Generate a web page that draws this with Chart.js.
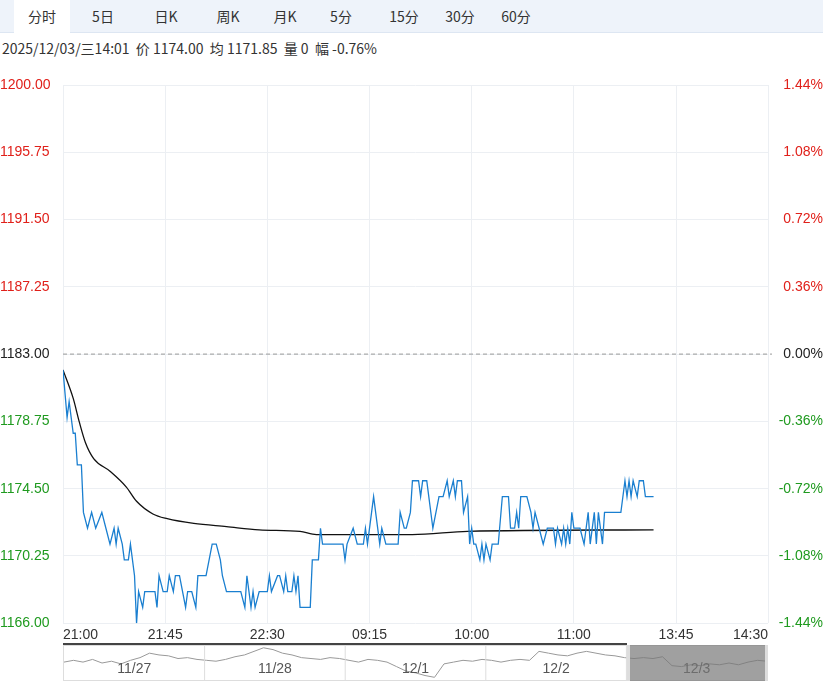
<!DOCTYPE html>
<html>
<head>
<meta charset="utf-8">
<script src="https://cdn.jsdelivr.net/npm/chart.js@4"></script>
<style>
body { margin: 0; width: 823px; height: 684px; position: relative; font-family: "Noto Sans CJK SC", "Noto Sans", sans-serif; background: #fff; overflow: hidden; }
#tabs { position: absolute; left: 0; top: 0; width: 823px; height: 32px; background: #eef3fa; border-bottom: 1px solid #dde6f2; }
#tabs span { position: absolute; top: 0; height: 32px; line-height: 32px; font-size: 14px; color: #333; text-align: center; width: 56px; }
#tabs span.on { background: #fff; height: 33px; }
#info { position: absolute; left: 2px; top: 38px; font-size: 14px; color: #333; white-space: pre; }
#main { position: absolute; left: 0; top: 60px; width: 823px; height: 588px; }
#nav { position: absolute; left: 63px; top: 645px; width: 705px; height: 36px; border: 1px solid #ddd; box-sizing: border-box; }
#navsel { position: absolute; left: 627px; top: 645px; width: 141px; height: 36px; background: rgba(120,120,120,0.7); border-left: 3px solid #ddd; border-right: 3px solid #ddd; box-sizing: border-box; }
#navbar { position: absolute; left: 63px; top: 643px; width: 564px; height: 2px; background: #444; }
</style>
</head>
<body>
<div id="tabs"></div>
<div id="info">2025/12/03/三14:01  价 1174.00  均 1171.85  量 0  幅 -0.76%</div>
<div id="main"><canvas id="chartMain"></canvas></div>
<div id="navbar"></div>
<div id="nav"><canvas id="chartNav"></canvas></div>
<div id="navsel"></div>
<script>
const tabLabels = ["分时", "5日", "日K", "周K", "月K", "5分", "15分", "30分", "60分"];
const tabX = [14, 75, 138, 200, 257, 313, 376, 432, 488];

// minute index (0 = 21:00) and price
const priceIdx = [0,2,3,5,6,7,9,10,12,14,16,19,21,23,25,26,27,29,30,32,33,35,36,37,39,40,45,46,47,49,51,52,54,55,57,60,61,63,65,66,70,73,75,77,78,80,87,89,90,92,93,94,96,100,101,102,105,106,108,109,110,112,113,114,115,116,121,122,125,126,127,137,138,139,142,144,145,147,148,149,152,154,155,156,158,164,165,167,168,170,171,174,175,176,178,181,184,186,188,189,191,192,193,195,196,198,199,200,201,202,204,205,206,207,209,210,213,215,218,219,221,222,223,224,227,229,230,231,233,235,237,240,241,242,244,245,246,247,248,249,250,253,255,256,257,258,260,261,262,264,265,273,275,276,277,278,279,281,282,284,285,289];
const priceVal = [1182,1179,1180,1178,1178,1176,1176,1173,1172,1173,1172,1173,1172,1171,1172,1171,1172,1171,1170,1170,1171,1169,1166,1168,1167,1168,1168,1167,1169,1168,1168,1169,1168,1169,1169,1167,1168,1168,1167,1169,1169,1171,1171,1170,1169,1168,1168,1167,1169,1167,1168,1167,1168,1168,1169,1168,1169,1169,1168,1169,1168,1168,1169,1168,1169,1167,1167,1170,1170,1172,1171,1171,1170,1171,1172,1171,1171,1171,1172,1171,1174,1172,1171,1172,1171,1171,1173,1172,1172,1173,1175,1175,1174,1175,1175,1172,1174,1174,1175,1174,1175,1174,1175,1175,1173,1174,1171,1172,1171,1171,1170,1171,1170,1171,1170,1171,1171,1174,1174,1172,1172,1173,1172,1174,1174,1173,1172,1173,1172,1171,1172,1172,1171,1172,1171,1172,1171,1172,1171,1173,1172,1172,1171,1172,1173,1171,1173,1171,1173,1171,1173,1173,1175,1174,1175,1174,1175,1174,1175,1175,1174,1174];
const avgIdx = [0,5,8,11,15,23,31,36,44,51,64,80,96,116,124,145,171,198,289];
const avgVal = [1182,1180.2,1178.7,1177.4,1176.4,1175.6,1174.6,1173.7,1172.9,1172.6,1172.3,1172.1,1171.9,1171.8,1171.6,1171.6,1171.6,1171.8,1171.9];

const prevClose = 1183;
const yTicks = [1166, 1170.25, 1174.5, 1178.75, 1183, 1187.25, 1191.5, 1195.75, 1200];
const xTickIdx = [0, 50, 100, 150, 200, 250, 300, 345];
const xTickLabels = ["21:00", "21:45", "22:30", "09:15", "10:00", "11:00", "13:45", "14:30"];

const navDays = ["11/27", "11/28", "12/1", "12/2", "12/3"];
const navVal = [50,52,50,53,49,51,48,52,55,60,58,57,54,55,53,52,51,53,
                56,58,62,66,64,60,58,55,54,53,55,54,52,50,53,52,50,
                45,40,38,35,33,48,50,52,51,53,52,50,52,53,52,
                62,60,58,57,60,62,60,58,57,55,54,55,54,56,
                46,45,47,46,48,47,49,47,50,52,51];

const tabs = document.getElementById("tabs");
tabLabels.forEach((t, i) => {
    const s = document.createElement("span");
    s.textContent = t;
    s.style.left = tabX[i] + "px";
    if (i === 0) s.className = "on";
    tabs.appendChild(s);
});

const RED = "#e0201a", GREEN = "#1f9a1f";
function tickColor(v) {
    if (Math.abs(v - prevClose) < 0.01) return "#222";
    return v > prevClose ? RED : GREEN;
}

const prevLine = {
    id: "prevLine",
    afterDatasetsDraw(chart) {
        const ctx = chart.ctx, y = chart.scales.y.getPixelForValue(prevClose);
        ctx.save();
        ctx.strokeStyle = "#999";
        ctx.setLineDash([4, 3]);
        ctx.beginPath();
        ctx.moveTo(chart.chartArea.left, y);
        ctx.lineTo(chart.chartArea.right + 4, y);
        ctx.stroke();
        ctx.restore();
    }
};

new Chart(document.getElementById("chartMain"), {
    type: "line",
    data: {
        datasets: [{
            data: priceIdx.map((x, i) => ({x: x, y: priceVal[i]})),
            borderColor: "#1a7fd0",
            borderWidth: 1.3,
            pointRadius: 0,
            tension: 0
        }, {
            data: avgIdx.map((x, i) => ({x: x, y: avgVal[i]})),
            borderColor: "#111",
            borderWidth: 1.3,
            pointRadius: 0,
            cubicInterpolationMode: "monotone"
        }]
    },
    options: {
        responsive: true,
        maintainAspectRatio: false,
        animation: false,
        layout: { padding: { top: 25, right: 0 } },
        plugins: { legend: { display: false }, tooltip: { enabled: false } },
        scales: {
            x: {
                type: "linear",
                min: 0,
                max: 345,
                afterBuildTicks: s => { s.ticks = xTickIdx.map(v => ({value: v})); },
                ticks: {
                    autoSkip: false,
                    maxRotation: 0,
                    padding: 4,
                    color: "#333",
                    font: { family: "Arial", size: 14 },
                    callback: (v, i) => xTickLabels[i],
                    align: "inner"
                },
                grid: { color: "#eceff3", drawTicks: false },
                border: { display: false }
            },
            y: {
                position: "left",
                min: 1166,
                max: 1200,
                afterBuildTicks: s => { s.ticks = yTicks.map(v => ({value: v})); },
                afterFit: s => { s.width = 63; },
                ticks: {
                    crossAlign: "far",
                    padding: 4,
                    color: c => tickColor(c.tick.value),
                    font: { family: "Arial", size: 14 },
                    callback: v => v.toFixed(2)
                },
                grid: { color: "#eceff3", drawTicks: false },
                border: { display: false }
            },
            y2: {
                position: "right",
                min: 1166,
                max: 1200,
                afterBuildTicks: s => { s.ticks = yTicks.map(v => ({value: v})); },
                afterFit: s => { s.width = 55; },
                ticks: {
                    crossAlign: "far",
                    padding: 4,
                    color: c => tickColor(c.tick.value),
                    font: { family: "Arial", size: 14 },
                    callback: v => ((v - prevClose) / prevClose * 100).toFixed(2) + "%"
                },
                grid: { display: false },
                border: { display: false }
            }
        }
    },
    plugins: [prevLine]
});

const dayBounds = {
    id: "dayBounds",
    afterDraw(chart) {
        const ctx = chart.ctx, a = chart.chartArea, w = (a.right - a.left) / navDays.length;
        ctx.save();
        ctx.fillStyle = "#555";
        ctx.font = "14px Arial";
        ctx.textAlign = "center";
        ctx.textBaseline = "middle";
        navDays.forEach((d, i) => {
            ctx.strokeStyle = "#ddd";
            if (i > 0) { ctx.beginPath(); ctx.moveTo(a.left + w * i, a.top); ctx.lineTo(a.left + w * i, a.bottom); ctx.stroke(); }
            ctx.fillText(d, a.left + w * i + w / 2, a.top + 23);
        });
        ctx.restore();
    }
};

new Chart(document.getElementById("chartNav"), {
    type: "line",
    data: {
        labels: navVal.map((v, i) => i),
        datasets: [{ data: navVal, borderColor: "#999", borderWidth: 1, pointRadius: 0 }]
    },
    options: {
        responsive: true,
        maintainAspectRatio: false,
        animation: false,
        layout: { padding: 0 },
        plugins: { legend: { display: false }, tooltip: { enabled: false } },
        scales: {
            x: { display: false },
            y: { display: false, min: 30, max: 68 }
        }
    },
    plugins: [dayBounds]
});
</script>
</body>
</html>
